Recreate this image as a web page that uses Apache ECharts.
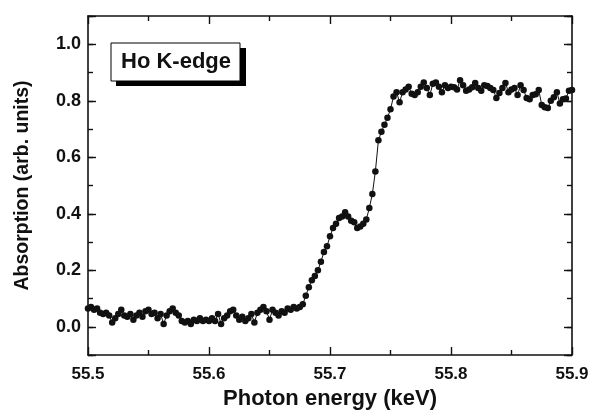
<!DOCTYPE html>
<html>
<head>
<meta charset="utf-8">
<script src="https://cdn.jsdelivr.net/npm/echarts@6/dist/echarts.min.js"></script>
<style>
  html, body { margin: 0; padding: 0; background: #fff; }
  #chart { width: 591px; height: 412px; }
</style>
</head>
<body>
<div id="chart"></div>
<script>
// scan energies (keV)
const energies = [
  55.5, 55.5025, 55.505, 55.5075, 55.51, 55.5125, 55.515, 55.5175, 55.52, 55.5225,
  55.525, 55.5275, 55.53, 55.5325, 55.535, 55.5375, 55.54, 55.5425, 55.545, 55.5475,
  55.55, 55.5525, 55.555, 55.5575, 55.56, 55.5625, 55.565, 55.5675, 55.57, 55.5725,
  55.575, 55.5775, 55.58, 55.5825, 55.585, 55.5875, 55.59, 55.5925, 55.595, 55.5975,
  55.6, 55.6025, 55.605, 55.6075, 55.61, 55.6125, 55.615, 55.6175, 55.62, 55.6225,
  55.625, 55.6275, 55.63, 55.6325, 55.635, 55.6375, 55.64, 55.6425, 55.645, 55.6475,
  55.65, 55.6525, 55.655, 55.6575, 55.66, 55.6625, 55.665, 55.6675, 55.67, 55.6725,
  55.675, 55.6775, 55.68, 55.6825, 55.685, 55.6875, 55.69, 55.6925, 55.695, 55.6975,
  55.7, 55.7025, 55.705, 55.7075, 55.71, 55.7125, 55.715, 55.7175, 55.72, 55.7225,
  55.725, 55.7275, 55.73, 55.7325, 55.735, 55.7375, 55.74, 55.7425, 55.745, 55.7475,
  55.75, 55.7525, 55.755, 55.7575, 55.76, 55.7625, 55.765, 55.7675, 55.77, 55.7725,
  55.775, 55.7775, 55.78, 55.7825, 55.785, 55.7875, 55.79, 55.7925, 55.795, 55.7975,
  55.8, 55.8025, 55.805, 55.8075, 55.81, 55.8125, 55.815, 55.8175, 55.82, 55.8225,
  55.825, 55.8275, 55.83, 55.8325, 55.835, 55.8375, 55.84, 55.8425, 55.845, 55.8475,
  55.85, 55.8525, 55.855, 55.8575, 55.86, 55.8625, 55.865, 55.8675, 55.87, 55.8725,
  55.875, 55.8775, 55.88, 55.8825, 55.885, 55.8875, 55.89, 55.8925, 55.895, 55.8975,
  55.9
]

// absorption (arb. units)
const absorption = [
  0.065, 0.07, 0.06, 0.065, 0.05, 0.045, 0.05, 0.04, 0.015, 0.03,
  0.045, 0.06, 0.04, 0.035, 0.045, 0.025, 0.04, 0.05, 0.035, 0.055,
  0.06, 0.045, 0.05, 0.03, 0.045, 0.01, 0.04, 0.055, 0.065, 0.05,
  0.04, 0.02, 0.015, 0.02, 0.01, 0.025, 0.02, 0.03, 0.02, 0.025,
  0.02, 0.03, 0.02, 0.045, 0.01, 0.03, 0.04, 0.055, 0.06, 0.04,
  0.025, 0.035, 0.02, 0.03, 0.045, 0.015, 0.05, 0.06, 0.07, 0.055,
  0.025, 0.06, 0.05, 0.04, 0.055, 0.05, 0.065, 0.06, 0.07, 0.065,
  0.07, 0.08, 0.11, 0.14, 0.165, 0.18, 0.2, 0.23, 0.265, 0.285,
  0.32, 0.35, 0.365, 0.385, 0.39, 0.405, 0.39, 0.375, 0.37, 0.35,
  0.355, 0.365, 0.38, 0.42, 0.47, 0.55, 0.66, 0.69, 0.715, 0.74,
  0.77, 0.815, 0.83, 0.795, 0.83, 0.84, 0.85, 0.825, 0.82, 0.83,
  0.85, 0.865, 0.845, 0.82, 0.86, 0.865, 0.85, 0.83, 0.855, 0.845,
  0.85, 0.848, 0.84, 0.873, 0.855, 0.835, 0.84, 0.848, 0.863, 0.845,
  0.835, 0.855, 0.852, 0.845, 0.838, 0.81, 0.827, 0.845, 0.863, 0.83,
  0.84, 0.845, 0.82, 0.855, 0.838, 0.81, 0.805, 0.82, 0.823, 0.838,
  0.785, 0.777, 0.774, 0.8, 0.812, 0.83, 0.79, 0.805, 0.808, 0.835,
  0.838
]

const xRange = [55.5, 55.9]
const yRange = [-0.1, 1.1]
const labelText = 'Ho K-edge'

const font = 'Liberation Sans, Arial, sans-serif'
const ink = '#111'

const chart = echarts.init(document.getElementById('chart'))

const axisLine = { show: true, onZero: false, lineStyle: { color: ink, width: 1.6 } }
const majorTick = { show: true, inside: true, length: 8, lineStyle: { color: ink, width: 1.4 } }
const minorTick = { show: true, inside: true, length: 5, lineStyle: { color: ink, width: 1.4 } }

const xBase = {
  type: 'value',
  min: xRange[0],
  max: xRange[1],
  interval: 0.1,
  axisLine: axisLine,
  axisTick: majorTick,
  minorTick: Object.assign({ splitNumber: 2 }, minorTick),
  splitLine: { show: false },
  minorSplitLine: { show: false },
}

const yMajor = {
  type: 'value',
  min: yRange[0],
  max: yRange[1],
  splitNumber: 6,
  axisLine: axisLine,
  axisTick: majorTick,
  splitLine: { show: false },
}

// short ticks every 0.1
const yMinor = {
  type: 'value',
  min: yRange[0],
  max: yRange[1],
  interval: 0.1,
  axisLine: { show: false },
  axisTick: minorTick,
  axisLabel: { show: false },
  splitLine: { show: false },
}

const option = {
  animation: false,
  backgroundColor: '#fff',
  grid: { left: 88, right: 19, top: 16, bottom: 57, outerBoundsMode: 'none' },
  xAxis: [
    Object.assign({}, xBase, {
      position: 'bottom',
      name: 'Photon energy (keV)',
      nameLocation: 'middle',
      nameGap: 32,
      nameTextStyle: { fontFamily: font, fontWeight: 'bold', fontSize: 22, color: ink },
      axisLabel: {
        margin: 11,
        fontFamily: font,
        fontWeight: 'bold',
        fontSize: 17,
        color: ink,
        formatter: (v) => v.toFixed(1),
      },
    }),
    Object.assign({}, xBase, { position: 'top', axisLabel: { show: false } }),
  ],
  yAxis: [
    Object.assign({}, yMajor, {
      position: 'left',
      name: 'Absorption (arb. units)',
      nameLocation: 'middle',
      nameGap: 55,
      nameTextStyle: { fontFamily: font, fontWeight: 'bold', fontSize: 19.5, color: ink },
      axisLabel: {
        margin: 7,
        fontFamily: font,
        fontWeight: 'bold',
        fontSize: 18,
        color: ink,
        formatter: (v) => (v < -0.05 || v > 1.05 ? '' : v.toFixed(1)),
      },
    }),
    Object.assign({}, yMinor, { position: 'left' }),
    Object.assign({}, yMajor, { position: 'right', axisLabel: { show: false } }),
    Object.assign({}, yMinor, { position: 'right' }),
  ],
  graphic: [
    { type: 'rect', shape: { x: 116, y: 48, width: 130, height: 38 }, style: { fill: '#000' } },
    {
      type: 'rect',
      shape: { x: 111, y: 43, width: 129, height: 38 },
      style: { fill: '#fff', stroke: '#000', lineWidth: 1 },
    },
    {
      type: 'text',
      x: 176,
      y: 62,
      style: {
        text: labelText,
        fontFamily: font,
        fontWeight: 'bold',
        fontSize: 22,
        fill: ink,
        align: 'center',
        verticalAlign: 'middle',
      },
    },
  ],
  series: [
    {
      type: 'line',
      xAxisIndex: 0,
      yAxisIndex: 0,
      data: energies.map((e, i) => [e, absorption[i]]),
      symbol: 'circle',
      symbolSize: 6.5,
      showAllSymbol: true,
      clip: false,
      itemStyle: { color: ink },
      lineStyle: { color: ink, width: 1 },
    },
  ],
}

chart.setOption(option)
</script>
</body>
</html>
